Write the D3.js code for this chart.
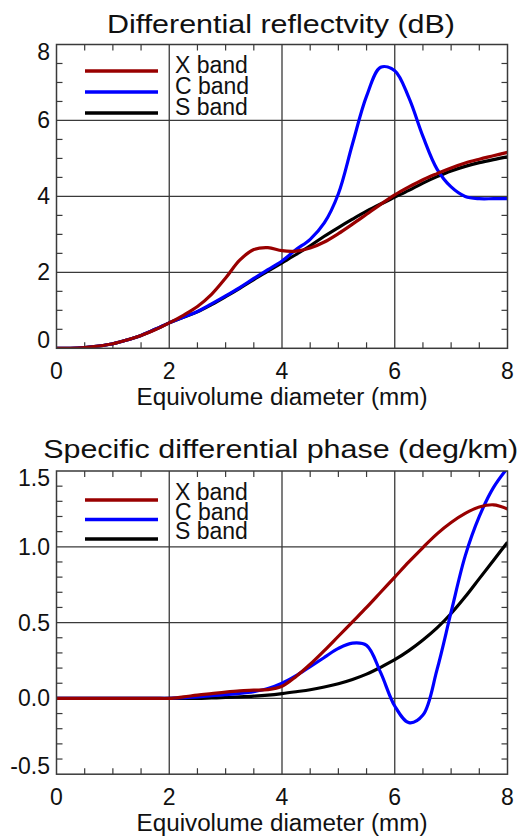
<!DOCTYPE html>
<html><head><meta charset="utf-8">
<script src="https://cdn.jsdelivr.net/npm/d3@7"></script>
<style>
body{margin:0;background:#fff}
text{font-family:"Liberation Sans",Arial,Helvetica,sans-serif;fill:#111}
</style>
</head><body>
<svg id="c" width="521" height="837"></svg>
<script>
// ---- data ----
const diameters = [0,0.25,0.5,0.75,1,1.25,1.5,1.75,2,2.25,2.5,2.75,3,3.25,3.5,3.75,4,4.25,4.5,4.75,5,5.25,5.5,5.75,6,6.25,6.5,6.75,7,7.25,7.5,7.75,8];
const bands = ["X band","C band","S band"];
const zdrX = [0,0,0.02,0.06,0.12,0.22,0.34,0.49,0.67,0.87,1.1,1.42,1.85,2.32,2.6,2.65,2.57,2.56,2.64,2.8,3.02,3.27,3.53,3.79,4.04,4.25,4.44,4.6,4.75,4.88,4.98,5.07,5.16];
const zdrC = [0,0,0.02,0.06,0.12,0.22,0.34,0.5,0.67,0.82,0.97,1.17,1.38,1.6,1.84,2.07,2.3,2.6,2.87,3.3,4.07,5.38,6.64,7.4,7.31,6.6,5.58,4.72,4.25,4.0,3.94,3.94,3.94];
const zdrS = [0,0,0.02,0.06,0.12,0.22,0.34,0.5,0.67,0.82,0.96,1.15,1.36,1.58,1.81,2.03,2.25,2.47,2.7,2.95,3.18,3.4,3.61,3.8,3.98,4.16,4.35,4.52,4.67,4.79,4.89,4.97,5.04];
const kdpX = [0,0,0,0,0,0,0,0,0,0.01,0.022,0.032,0.042,0.05,0.054,0.058,0.08,0.145,0.225,0.315,0.41,0.505,0.6,0.7,0.8,0.9,0.995,1.085,1.16,1.22,1.262,1.277,1.25];
const kdpC = [0,0,0,0,0,0,0,0,0,0.005,0.01,0.018,0.025,0.033,0.045,0.065,0.1,0.15,0.21,0.27,0.33,0.365,0.35,0.17,-0.05,-0.16,-0.11,0.19,0.57,0.94,1.2,1.39,1.52];
const kdpS = [0,0,0,0,0,0,0,0,0,0,0,0.003,0.006,0.01,0.015,0.022,0.032,0.044,0.057,0.075,0.097,0.125,0.16,0.205,0.255,0.315,0.385,0.465,0.56,0.67,0.79,0.91,1.03];
const xTicks = [0,2,4,6,8];
const xTickLabels = ["0","2","4","6","8"];
const zdrTicks = [0,2,4,6,8];
const zdrTickLabels = ["0","2","4","6","8"];
const kdpTicks = [-0.5,0,0.5,1,1.5];
const kdpTickLabels = ["-0.5","0.0","0.5","1.0","1.5"];
const titles = ["Differential reflectvity (dB)","Specific differential phase (deg/km)"];
const xLabel = "Equivolume diameter (mm)";

const colors = ["#990000","#0000ff","#000000"];
const svg = d3.select("#c");

function panel(o){
  const x = d3.scaleLinear().domain([0,8]).range([56.5,507.5]);
  const y = d3.scaleLinear().domain(o.yDomain).range([o.bottom,o.top]);
  const g = svg.append("g");
  const L = x.range()[0], R = x.range()[1];
  const gridC = "#3a3a3a";
  // gridlines
  g.selectAll(null).data(xTicks.slice(1,-1)).join("line")
    .attr("x1",d=>x(d)).attr("x2",d=>x(d)).attr("y1",o.top).attr("y2",o.bottom)
    .attr("stroke",gridC).attr("stroke-width",1.3);
  g.selectAll(null).data(o.yTicks.slice(1,-1)).join("line")
    .attr("y1",d=>y(d)).attr("y2",d=>y(d)).attr("x1",L).attr("x2",R)
    .attr("stroke",gridC).attr("stroke-width",1.3);
  // minor ticks
  const xm = d3.range(1,16).filter(i=>i%4!==0).map(i=>i*0.5);
  const tl = 6;
  g.selectAll(null).data(xm).join("line")
    .attr("x1",d=>x(d)).attr("x2",d=>x(d)).attr("y1",o.bottom).attr("y2",o.bottom-tl)
    .attr("stroke",gridC).attr("stroke-width",1.2);
  g.selectAll(null).data(xm).join("line")
    .attr("x1",d=>x(d)).attr("x2",d=>x(d)).attr("y1",o.top).attr("y2",o.top+tl)
    .attr("stroke",gridC).attr("stroke-width",1.2);
  g.selectAll(null).data(o.yMinor).join("line")
    .attr("y1",d=>y(d)).attr("y2",d=>y(d)).attr("x1",L).attr("x2",L+tl)
    .attr("stroke",gridC).attr("stroke-width",1.2);
  g.selectAll(null).data(o.yMinor).join("line")
    .attr("y1",d=>y(d)).attr("y2",d=>y(d)).attr("x1",R).attr("x2",R-tl)
    .attr("stroke",gridC).attr("stroke-width",1.2);
  // clip
  const cid = "clip"+o.id;
  svg.append("clipPath").attr("id",cid).append("rect")
    .attr("x",L).attr("y",o.top).attr("width",R-L).attr("height",o.bottom-o.top);
  const line = d3.line().x((d,i)=>x(diameters[i])).y(d=>y(d)).curve(d3.curveCatmullRom.alpha(0.5));
  const order = [2,1,0];
  order.forEach(k=>{
    g.append("path").attr("d",line(o.series[k])).attr("fill","none")
      .attr("stroke",colors[k]).attr("stroke-width",3.2).attr("stroke-linejoin","round")
      .attr("clip-path",`url(#${cid})`);
  });
  // box
  g.append("rect").attr("x",L).attr("y",o.top).attr("width",R-L).attr("height",o.bottom-o.top)
    .attr("fill","none").attr("stroke",gridC).attr("stroke-width",1.5);
  // legend
  bands.forEach((b,k)=>{
    const ly = o.legY + k*o.legDy;
    g.append("line").attr("x1",85).attr("x2",158).attr("y1",ly).attr("y2",ly)
      .attr("stroke",colors[k]).attr("stroke-width",3.5);
    g.append("text").attr("x",175).attr("y",ly+o.legTextDy).attr("font-size",23).text(b);
  });
  // y tick labels
  g.selectAll(null).data(o.yTicks).join("text")
    .attr("x",50).attr("text-anchor","end").attr("font-size",23)
    .attr("y",d=>Math.max(o.top+15,Math.min(o.bottom,y(d)+8)))
    .text((d,i)=>o.yTickLabels[i]);
  // x tick labels
  g.selectAll(null).data(xTicks).join("text")
    .attr("x",d=>x(d)).attr("y",o.bottom+31).attr("text-anchor","middle").attr("font-size",23)
    .text((d,i)=>xTickLabels[i]);
  // axis label
  g.append("text").attr("x",282).attr("y",o.bottom+57).attr("text-anchor","middle")
    .attr("font-size",23.5).attr("textLength",291).attr("lengthAdjust","spacingAndGlyphs").text(xLabel);
  // title
  g.append("text").attr("x",o.titleX).attr("y",o.titleY).attr("text-anchor","middle")
    .attr("font-size",26.5).attr("textLength",o.titleW).attr("lengthAdjust","spacingAndGlyphs").text(o.title);
}

panel({id:1,yDomain:[0,8],top:44.5,bottom:348.3,yTicks:zdrTicks,yTickLabels:zdrTickLabels,
  yMinor:d3.range(1,16).filter(i=>i%4!==0).map(i=>i*0.5),
  series:[zdrX,zdrC,zdrS],legY:71,legDy:21,legTextDy:1.5,
  title:titles[0],titleX:281,titleY:32.5,titleW:348});
panel({id:2,yDomain:[-0.5,1.5],top:471,bottom:774.2,yTicks:kdpTicks,yTickLabels:kdpTickLabels,
  yMinor:d3.range(1,20).filter(i=>i%5!==0).map(i=>-0.5+i*0.1),
  series:[kdpX,kdpC,kdpS],legY:500,legDy:19.5,legTextDy:0,
  title:titles[1],titleX:280.7,titleY:457.5,titleW:475});
</script>
</body></html>
